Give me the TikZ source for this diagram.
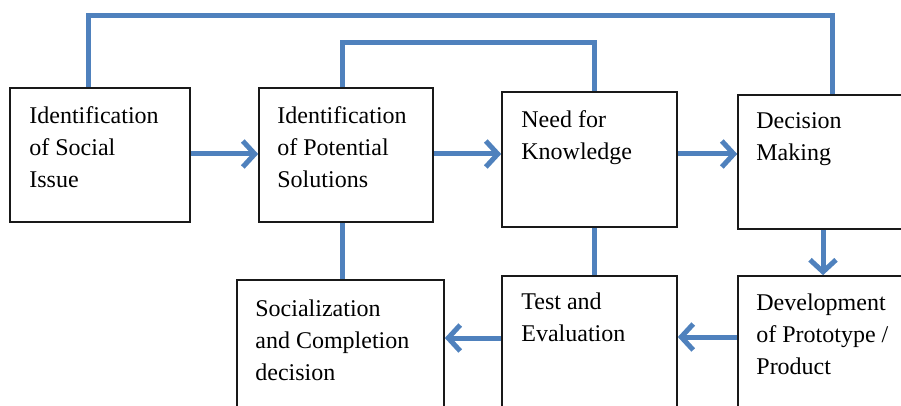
\documentclass[tikz,border=0pt]{standalone}
\usepackage{fontspec}
\setmainfont{Liberation Serif}
\usetikzlibrary{arrows.meta}
\definecolor{conncol}{RGB}{79,129,189}
\tikzset{
  box/.style={draw=black!90, line width=1.6pt, inner sep=0pt, fill=white},
  txt/.style={anchor=base west, inner sep=0pt, font=\fontsize{24}{32}\selectfont, align=left},
  conn/.style={draw=conncol, line width=5pt, line join=miter},
  arr/.style={conn, -{Straight Barb[length=12pt,width=26pt,line width=5pt]}},
}
\newcommand{\mylines}[1]{\begin{tabular}[t]{@{}l@{}}#1\end{tabular}}
\begin{document}
\begin{tikzpicture}[x=1pt,y=-1pt]
\useasboundingbox (0,0) rectangle (901,406);
\clip (0,0) rectangle (901,406);
% boxes
\node[box, minimum width=180pt, minimum height=134pt] (b1) at (100,155) {};
\node[box, minimum width=174pt, minimum height=134pt] (b2) at (346,155) {};
\node[box, minimum width=175pt, minimum height=135pt] (b3) at (589.5,159.5) {};
\node[box, minimum width=212pt, minimum height=134pt] (b4) at (844,162) {};
\node[box, minimum width=207pt, minimum height=170pt] (b5) at (340.5,365) {};
\node[box, minimum width=175pt, minimum height=174pt] (b6) at (589.5,363) {};
\node[box, minimum width=212pt, minimum height=174pt] (b7) at (844,363) {};
% texts
\node[txt] (t1) at ([xshift=20pt,yshift=-36pt]b1.north west) {\mylines{Identification\\of Social\\Issue}};
\node[txt] (t2) at ([xshift=19pt,yshift=-36pt]b2.north west) {\mylines{Identification\\of Potential\\Solutions}};
\node[txt] (t3) at ([xshift=20pt,yshift=-36pt]b3.north west) {\mylines{Need for\\Knowledge}};
\node[txt] (t4) at ([xshift=19pt,yshift=-34pt]b4.north west) {\mylines{Decision\\Making}};
\node[txt] (t5) at ([xshift=19pt,yshift=-37pt]b5.north west) {\mylines{Socialization\\and Completion\\decision}};
\node[txt] (t6) at ([xshift=20pt,yshift=-34pt]b6.north west) {\mylines{Test and\\Evaluation}};
\node[txt] (t7) at ([xshift=19pt,yshift=-35pt]b7.north west) {\mylines{Development\\of Prototype /\\Product}};
% helper coordinates for the top routes
\coordinate (top1) at (0,16);
\coordinate (top2) at (0,43);
% connectors
\draw[conn] ([xshift=-12pt]b1.north) -- ([xshift=-12pt]b1.north |- top1) -| ([xshift=-12pt]b4.north);
\draw[conn] ([xshift=-4pt]b2.north) -- ([xshift=-4pt]b2.north |- top2) -| ([xshift=4.5pt]b3.north);
\draw[arr] ([yshift=1pt]b1.east) -- ([yshift=1pt]b1.east -| b2.west);
\draw[arr] ([yshift=1pt]b2.east) -- ([yshift=1pt]b2.east -| b3.west);
\draw[arr] ([yshift=5.5pt]b3.east) -- ([yshift=5.5pt]b3.east -| b4.west);
\draw[conn] ([xshift=-4pt]b2.south) -- ([xshift=-4pt]b2.south |- b5.north);
\draw[conn] ([xshift=4.5pt]b3.south) -- ([xshift=4.5pt]b3.south |- b6.north);
\draw[arr] ([xshift=-21pt]b4.south) -- ([xshift=-21pt]b4.south |- b7.north);
\draw[arr] ([yshift=26pt]b7.west) -- ([yshift=26pt]b7.west -| b6.east);
\draw[arr] ([yshift=25pt]b6.west) -- ([yshift=25pt]b6.west -| b5.east);
\end{tikzpicture}
\end{document}
